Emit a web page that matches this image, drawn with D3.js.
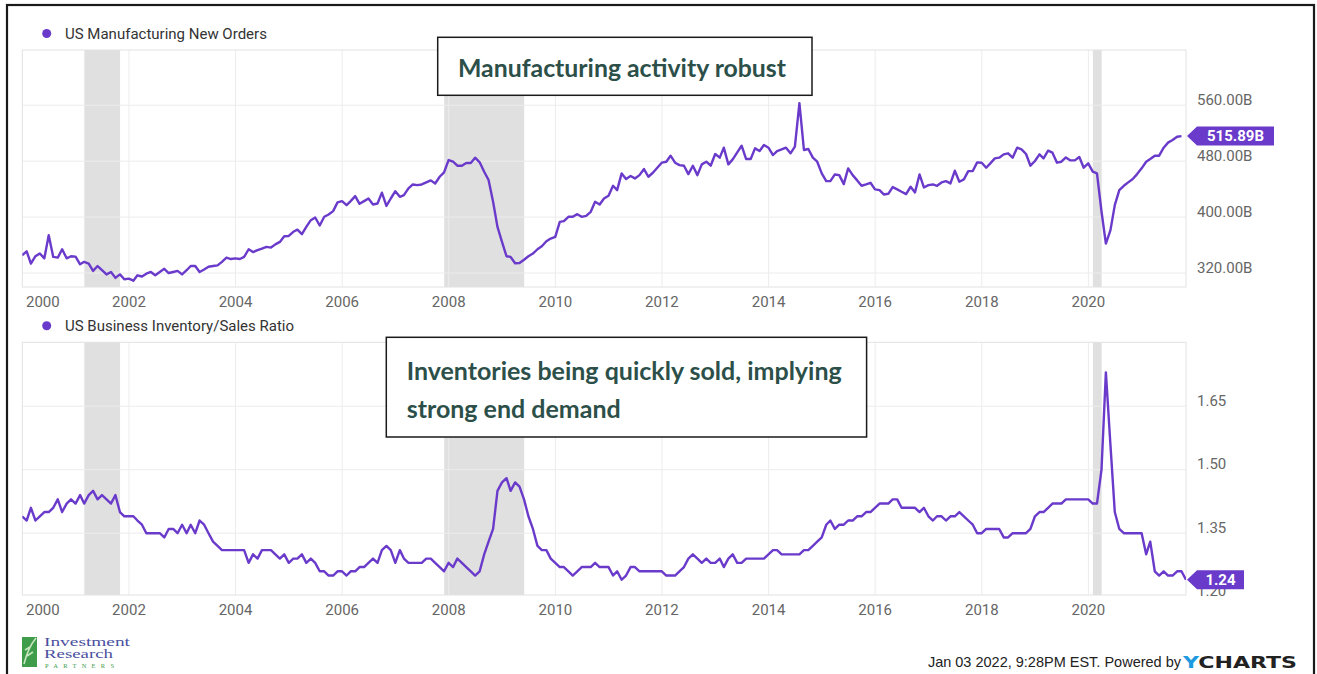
<!DOCTYPE html>
<html lang="en">

<head>
    <meta charset="UTF-8">
    <title>US Manufacturing New Orders vs Inventory/Sales Ratio</title>
    <style>
        body {
            margin: 0;
            background: #fff;
        }

        svg {
            display: block;
            font-family: Roboto, "Noto Sans", sans-serif;
        }

        .grid line {
            stroke: #ececec;
            stroke-width: 1;
        }

        .frame {
            fill: none;
            stroke: #e2e2e2;
        }

        .tick-label {
            fill: #666;
            font-size: 15px;
        }

        .legend {
            fill: #333;
            font-size: 15px;
        }

        .note {
            fill: #2c5049;
            font-family: Lato, "Open Sans", sans-serif;
            font-weight: 700;
            font-size: 24px;
        }
    </style>
</head>

<body>
    <svg id="chart" width="1317" height="674"></svg>

    <script src="https://d3js.org/d3.v7.min.js"></script>
    <script>
        // monthly values, first point is end of Dec 1999
        const newOrders = [
            345.4, 351, 333.5, 344, 348, 341, 374, 343, 342, 354, 341, 344,
            343.5, 332.5, 336, 333.5, 323, 330, 324, 318, 321.5, 313, 318, 311,
            312, 309, 316.7, 315, 319, 321.5, 316.7, 321.5, 326, 320, 321.5, 323,
            318, 324, 330, 330, 321.5, 325, 329, 330, 331, 336, 342, 340,
            341, 340, 343, 354, 350, 352.6, 355, 357.4, 356.4, 361, 364.5, 372.6,
            373, 379, 382, 375.5, 386, 395.6, 399.4, 388, 400.4, 403.7, 408.5, 421,
            422.8, 417, 422.8, 430, 419, 422.8, 426.6, 418, 419.5, 435, 416, 426.6,
            437, 429, 431.4, 441, 446.7, 445.8, 446.7, 449.6, 452.5, 448, 457.7, 464,
            481.6, 479.2, 473.5, 473.5, 477.3, 477.3, 485, 478.3, 464.9, 453, 421.9, 386,
            364.5, 344, 343, 334, 334.4, 339, 344, 347.8, 354, 358.3, 365.5, 369.3,
            371.7, 393.2, 394.2, 400.4, 400.4, 404.2, 400.4, 401.8, 407.5, 421.9, 418, 426.6,
            430.5, 444.8, 438.6, 462.5, 454.4, 458.7, 455.3, 460, 468.7, 457.7, 463.4, 470.6,
            477.8, 479.2, 487.8, 477.8, 474.4, 473.5, 461.5, 473.5, 460, 475.4, 479.2, 473.5,
            490.2, 485, 499.3, 475.4, 482.6, 492.6, 502.2, 483, 483, 498.3, 494.5, 503.1,
            499.3, 488.8, 494.5, 496.9, 499.3, 491.2, 500.7, 562.9, 496, 497.4, 485, 479.2,
            462.5, 451.5, 451.5, 461, 460, 447.2, 469.7, 460, 452.5, 444.8, 446.7, 449.1,
            439.6, 438.6, 432.4, 433.3, 442.9, 439.6, 436.2, 432.9, 443.4, 435.3, 461, 442.4,
            445.8, 446.7, 444.8, 449.6, 451.5, 448.2, 466.3, 450.6, 453.9, 465.8, 465.8, 478.3,
            477.8, 470.6, 476.8, 484, 485, 489.7, 491.2, 485, 499.3, 496.9, 490.2, 473.5,
            480.2, 489.7, 484, 495, 492.1, 477.8, 479.2, 485.4, 481.1, 481.1, 485.9, 470.6,
            476.8, 465, 462.5, 408, 362, 381, 417, 438.6, 444.8, 449.6, 454.4, 461.5,
            469.7, 479.2, 483, 487.8, 487.8, 499.3, 506.5, 510.3, 515, 515.89
        ];

        const invSales = [
            1.39, 1.38, 1.41, 1.38, 1.39, 1.40, 1.40, 1.41, 1.43, 1.40, 1.42, 1.43,
            1.42, 1.44, 1.42, 1.44, 1.45, 1.43, 1.44, 1.43, 1.42, 1.44, 1.40, 1.39,
            1.39, 1.39, 1.38, 1.37, 1.35, 1.35, 1.35, 1.35, 1.34, 1.36, 1.36, 1.35,
            1.37, 1.35, 1.37, 1.35, 1.38, 1.37, 1.35, 1.33, 1.32, 1.31, 1.31, 1.31,
            1.31, 1.31, 1.31, 1.28, 1.30, 1.29, 1.31, 1.31, 1.31, 1.30, 1.29, 1.30,
            1.28, 1.29, 1.29, 1.30, 1.28, 1.29, 1.28, 1.26, 1.26, 1.25, 1.25, 1.26,
            1.26, 1.25, 1.26, 1.26, 1.27, 1.27, 1.28, 1.29, 1.28, 1.31, 1.32, 1.31,
            1.28, 1.31, 1.29, 1.28, 1.28, 1.28, 1.28, 1.29, 1.29, 1.28, 1.27, 1.26,
            1.28, 1.27, 1.29, 1.28, 1.27, 1.26, 1.25, 1.26, 1.30, 1.33, 1.36, 1.45,
            1.47, 1.48, 1.45, 1.47, 1.46, 1.43, 1.39, 1.36, 1.32, 1.31, 1.31, 1.29,
            1.28, 1.27, 1.27, 1.26, 1.25, 1.26, 1.27, 1.27, 1.27, 1.28, 1.27, 1.27,
            1.27, 1.25, 1.26, 1.24, 1.25, 1.27, 1.27, 1.26, 1.26, 1.26, 1.26, 1.26,
            1.26, 1.25, 1.25, 1.25, 1.26, 1.27, 1.29, 1.30, 1.29, 1.28, 1.29, 1.28,
            1.28, 1.29, 1.27, 1.29, 1.30, 1.28, 1.28, 1.29, 1.29, 1.29, 1.29, 1.29,
            1.30, 1.31, 1.31, 1.30, 1.30, 1.30, 1.30, 1.30, 1.31, 1.31, 1.32, 1.33,
            1.34, 1.37, 1.38, 1.36, 1.37, 1.37, 1.38, 1.38, 1.39, 1.39, 1.40, 1.40,
            1.41, 1.42, 1.42, 1.42, 1.43, 1.43, 1.41, 1.41, 1.41, 1.41, 1.40, 1.41,
            1.39, 1.38, 1.39, 1.39, 1.38, 1.39, 1.39, 1.40, 1.39, 1.38, 1.37, 1.35,
            1.35, 1.36, 1.36, 1.36, 1.36, 1.34, 1.34, 1.35, 1.35, 1.35, 1.35, 1.36,
            1.39, 1.40, 1.40, 1.41, 1.42, 1.42, 1.42, 1.43, 1.43, 1.43, 1.43, 1.43,
            1.43, 1.42, 1.42, 1.50, 1.73, 1.56, 1.40, 1.36, 1.35, 1.35, 1.35, 1.35,
            1.35, 1.30, 1.33, 1.26, 1.25, 1.26, 1.25, 1.25, 1.26, 1.26, 1.24
        ];

        const yearTicks = [2000, 2002, 2004, 2006, 2008, 2010, 2012, 2014, 2016, 2018, 2020];
        const ordersTicks = [320, 400, 480, 560];
        const ratioTicks = [1.20, 1.35, 1.50, 1.65];
        const recessions = [["2001-03-01", "2001-11-01"], ["2007-12-01", "2009-06-01"], ["2020-02-01", "2020-04-01"]];

        const purple = "#6a3acb";
        const left = 22.3, right = 1186;

        const svg = d3.select("#chart");

        // outer frame of the slide
        svg.append("rect")
            .attr("x", 7).attr("y", 5)
            .attr("width", 1307).attr("height", 700)
            .attr("fill", "none")
            .attr("stroke", "#1a1a1a")
            .attr("stroke-width", 2.2);

        const x = d3.scaleTime()
            .domain([new Date(2000, 0, 1), new Date(2021, 9, 31)])
            .range([left, right]);

        const monthEnd = i => new Date(2000, i, 0);

        function panel(id, values, domain, top, bottom, ticks, fmt, legend, tagText, tagW) {
            const y = d3.scaleLinear().domain(domain).range([bottom, top]);
            const g = svg.append("g").attr("id", id);

            g.append("clipPath").attr("id", id + "-clip")
                .append("rect")
                .attr("x", left).attr("y", top)
                .attr("width", right - left).attr("height", bottom - top);

            // recession shading
            g.selectAll(".rec")
                .data(recessions)
                .enter()
                .append("rect")
                .attr("x", d => x(new Date(d[0])))
                .attr("width", d => x(new Date(d[1])) - x(new Date(d[0])))
                .attr("y", top)
                .attr("height", bottom - top)
                .attr("fill", "#e0e0e0");

            const grid = g.append("g").attr("class", "grid");
            grid.selectAll(".vx")
                .data(yearTicks.slice(1))
                .enter()
                .append("line")
                .attr("x1", d => x(new Date(d, 0, 1)))
                .attr("x2", d => x(new Date(d, 0, 1)))
                .attr("y1", top).attr("y2", bottom);
            grid.selectAll(".hy")
                .data(ticks.filter(t => y(t) > top && y(t) < bottom))
                .enter()
                .append("line")
                .attr("x1", left).attr("x2", right)
                .attr("y1", d => y(d)).attr("y2", d => y(d));

            g.append("rect")
                .attr("class", "frame")
                .attr("x", left).attr("y", top)
                .attr("width", right - left).attr("height", bottom - top);

            const line = d3.line()
                .x((d, i) => x(monthEnd(i)))
                .y(d => y(d));

            g.append("path")
                .datum(values)
                .attr("clip-path", "url(#" + id + "-clip)")
                .attr("fill", "none")
                .attr("stroke", purple)
                .attr("stroke-width", 2.4)
                .attr("stroke-linejoin", "round")
                .attr("d", line);

            // x labels, first one pushed inside the plot
            g.selectAll(".xl")
                .data(yearTicks)
                .enter()
                .append("text")
                .attr("class", "tick-label")
                .attr("x", (d, i) => i === 0 ? left + 3.7 : x(new Date(d, 0, 1)))
                .attr("y", bottom + 19.5)
                .attr("text-anchor", (d, i) => i === 0 ? "start" : "middle")
                .text(d => d);

            // y labels sit right above their grid line
            g.selectAll(".yl")
                .data(ticks)
                .enter()
                .append("text")
                .attr("class", "tick-label")
                .attr("x", 1197)
                .attr("y", d => y(d) - 0.5)
                .text(fmt);

            // legend
            g.append("circle")
                .attr("cx", 46.7).attr("cy", top - 16.5)
                .attr("r", 4.5)
                .attr("fill", purple);
            g.append("text")
                .attr("class", "legend")
                .attr("x", 65).attr("y", top - 11.5)
                .text(legend);

            // last value tag
            const last = values[values.length - 1];
            const ty = y(last), tx = right + 1;
            g.append("path")
                .attr("d", `M${tx},${ty} L${tx + 10},${ty - 9.5} H${tx + 10 + tagW} V${ty + 9.5} H${tx + 10} Z`)
                .attr("fill", purple);
            g.append("text")
                .attr("x", tx + 10 + tagW / 2)
                .attr("y", ty + 5)
                .attr("text-anchor", "middle")
                .attr("fill", "#fff")
                .attr("font-weight", 700)
                .attr("font-size", "15px")
                .text(tagText(last));
        }

        panel("orders", newOrders, [300, 639], 50, 287, ordersTicks,
            d => d3.format(".2f")(d) + "B", "US Manufacturing New Orders",
            v => d3.format(".2f")(v) + "B", 77);

        panel("ratio", invSales, [1.204, 1.801], 342.3, 595, ratioTicks,
            d => d3.format(".2f")(d), "US Business Inventory/Sales Ratio",
            v => d3.format(".2f")(v), 47);

        // annotation boxes
        function note(bx, by, bw, bh, lines) {
            const g = svg.append("g");
            g.append("rect")
                .attr("x", bx).attr("y", by)
                .attr("width", bw).attr("height", bh)
                .attr("fill", "#fff")
                .attr("stroke", "#1a1a1a")
                .attr("stroke-width", 1.5);
            lines.forEach(l => {
                g.append("text")
                    .attr("class", "note")
                    .attr("x", l.x).attr("y", l.y)
                    .attr("textLength", l.w)
                    .attr("lengthAdjust", "spacingAndGlyphs")
                    .text(l.t);
            });
        }

        note(437.7, 37.3, 374.3, 58, [
            { t: "Manufacturing activity robust", x: 458, y: 77, w: 328 }
        ]);
        note(386.3, 337.3, 480.3, 99.7, [
            { t: "Inventories being quickly sold, implying", x: 406.7, y: 380, w: 435 },
            { t: "strong end demand", x: 406.7, y: 418, w: 214 }
        ]);

        // footer: logo
        const serif = "'Liberation Serif', 'DejaVu Serif', serif";
        const logo = svg.append("g");
        logo.append("rect")
            .attr("x", 22).attr("y", 637)
            .attr("width", 15).attr("height", 30)
            .attr("fill", "#3e9c4a");
        logo.append("path")
            .attr("d", "M24,664 C27,652 31,644 36,638 M27,656 L33,652 M25,650 L30,647")
            .attr("stroke", "#c8e6c0")
            .attr("stroke-width", 1.6)
            .attr("fill", "none");
        logo.append("text")
            .attr("x", 44).attr("y", 646)
            .attr("font-family", serif)
            .attr("font-size", "12.5px")
            .attr("fill", "#4a50a0")
            .attr("textLength", 86)
            .attr("lengthAdjust", "spacingAndGlyphs")
            .text("Investment");
        logo.append("text")
            .attr("x", 44).attr("y", 657.5)
            .attr("font-family", serif)
            .attr("font-size", "12.5px")
            .attr("fill", "#4a50a0")
            .attr("textLength", 69)
            .attr("lengthAdjust", "spacingAndGlyphs")
            .text("Research");
        logo.append("text")
            .attr("x", 45).attr("y", 668)
            .attr("font-family", serif)
            .attr("font-size", "6.5px")
            .attr("fill", "#3e9c4a")
            .attr("textLength", 69)
            .text("PARTNERS");

        // footer: source line
        svg.append("text")
            .attr("x", 1181).attr("y", 667)
            .attr("text-anchor", "end")
            .attr("font-family", "'Liberation Sans', Arial, sans-serif")
            .attr("font-size", "14.5px")
            .attr("fill", "#222")
            .text("Jan 03 2022, 9:28PM EST. Powered by");
        const yc = svg.append("text")
            .attr("x", 1183).attr("y", 667.5)
            .attr("font-family", "'DejaVu Sans', 'Liberation Sans', sans-serif")
            .attr("font-size", "15px")
            .attr("font-weight", 700)
            .attr("textLength", 114)
            .attr("lengthAdjust", "spacingAndGlyphs")
            .attr("fill", "#222");
        yc.append("tspan").attr("fill", "#1e9be0").text("Y");
        yc.append("tspan").text("CHARTS");
    </script>
</body>

</html>
